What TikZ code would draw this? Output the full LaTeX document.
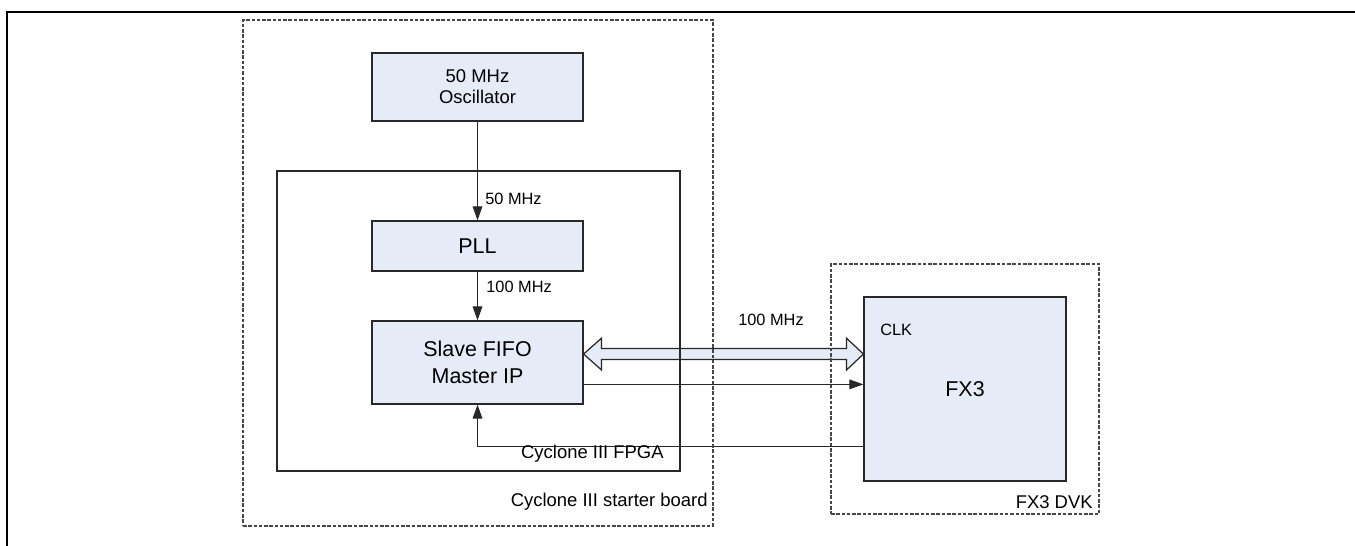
\documentclass[tikz,border=0pt]{standalone}
\usepackage{fontspec}
\setmainfont{Liberation Sans}
\usetikzlibrary{arrows.meta,positioning,calc}
\definecolor{blkfill}{RGB}{229,236,247}
\definecolor{blkline}{RGB}{40,40,40}
\definecolor{brdline}{RGB}{70,70,70}
\tikzset{
  blk/.style={draw=blkline, fill=blkfill, line width=0.7pt, inner sep=0pt,
              align=center, font=\fontsize{12.2}{15.5}\selectfont},
  oscblk/.style={blk, font=\fontsize{10.5}{12}\selectfont},
  chip/.style={draw=blkline, line width=0.7pt, inner sep=0pt},
  brd/.style={draw=brdline, line width=0.7pt, dash pattern=on 2pt off 1pt, inner sep=0pt},
  sig/.style={-{Triangle[length=8pt,width=5.5pt]}, blkline, line width=0.7pt},
  bus/.style={draw=blkline, fill=blkfill, line width=0.7pt},
  flab/.style={font=\fontsize{9.3}{11}\selectfont, inner sep=0pt},
  ttl/.style={font=\fontsize{10.5}{12}\selectfont, inner sep=0pt},
  frame/.style={black, line width=1.2pt},
}

\begin{document}
\begin{tikzpicture}[x=0.02cm, y=-0.02cm]
  \useasboundingbox (0,0) rectangle (1355,546);
  \draw[frame] (7,546) -- (7,12) -- (1355,12);

  % blocks
  \node[oscblk, minimum width=4.22cm, minimum height=1.36cm] (osc) at (477.5,87) {50 MHz\\Oscillator};
  \node[blk, minimum width=4.22cm, minimum height=1.0cm] (pll) at (477.5,246) {PLL};
  \node[blk, minimum width=4.22cm, minimum height=1.66cm] (slave) at (477.5,362.5) {Slave FIFO\\Master IP};
  \node[blk, minimum width=4.04cm, minimum height=3.68cm] (fx3) at (965,389) {FX3};

  % clocks
  \draw[sig] (osc.south) -- (pll.north);
  \draw[sig] (pll.south) -- (slave.north);
  \node[flab, anchor=west] (f50) at (485,199) {50 MHz};
  \node[flab, anchor=west] (f100) at (486,287) {100 MHz};

  % data bus
  \coordinate (busl) at ($(slave.north east)!0.4!(slave.south east)$);
  \coordinate (busr) at (busl -| fx3.west);
  \draw[bus] (busl) -- ++(18,-16) -- ++(0,10.5) -- ($(busr)+(-17,-5.5)$) -- ++(0,-10.5)
    -- (busr) -- ++(-17,16) -- ++(0,-10.5) -- ($(busl)+(18,5.5)$) -- ++(0,10.5) -- cycle;
  \node[flab] (fbus) at (771,320) {100 MHz};

  \coordinate (clkout) at ($(slave.north east)!0.76!(slave.south east)$);
  \draw[sig] (clkout) -- (clkout -| fx3.west);
  \node[flab, anchor=west] (clk) at (880,330) {CLK};

  \coordinate (fbs) at ($(fx3.north west)!0.54!(fx3.south west)$);
  \coordinate (fbk) at ($(fx3.north west)!0.81!(fx3.south west)$);
  \draw[sig] (fbs) -- (fbk) -| (slave.south);

  % boards
  \node[chip, minimum width=8.06cm, minimum height=6.0cm] (fpga) at (478.5,321) {};
  \node[brd, minimum width=9.4cm, minimum height=10.12cm] (board) at (478,273) {};
  \node[brd, minimum width=5.36cm, minimum height=5.0cm] (dvk) at (965,389) {};
  \node[ttl, anchor=east] (fpgalbl) at (664,454) {Cyclone III FPGA};
  \node[ttl, anchor=east] (brdlbl) at (708,502) {Cyclone III starter board};
  \node[ttl, anchor=east] (dvklbl) at (1093,502) {FX3 DVK};
\end{tikzpicture}
\end{document}
